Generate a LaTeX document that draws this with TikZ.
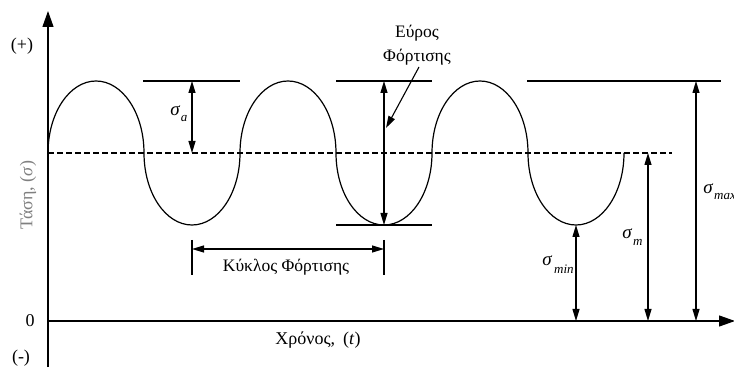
\documentclass[tikz,border=0pt]{standalone}
\usepackage{fontspec}
\setmainfont{Liberation Serif}
\usetikzlibrary{arrows.meta}
\begin{document}
\begin{tikzpicture}[x=1pt,y=1pt,
  line/.style={line width=1.1pt},
  dim/.style={line width=1.1pt,{Triangle[length=12pt,width=7pt]}-{Triangle[length=12pt,width=7pt]}},
  axis/.style={line width=1.2pt,-{Triangle[length=16pt,width=11pt]}},
  lbl/.style={inner sep=0pt,font=\fontsize{17.5}{20}\selectfont},
  sig/.style={inner sep=0pt,font=\fontsize{19}{20}\selectfont\itshape},
  sub/.style={inner sep=0pt,font=\fontsize{13}{14}\selectfont\itshape}]
\useasboundingbox (0,0) rectangle (734,367);
% axes
\coordinate (ybot) at (48,0);
\coordinate (ytop) at (48,356);
\coordinate (xl) at (48,46);
\coordinate (xr) at (735,46);
\draw[axis] (ybot) -- (ytop);
\draw[axis] (xl) -- (xr);
% mean line
\coordinate (ml) at (48,214);
\coordinate (mr) at (672,214);
\draw[line,dash pattern=on 6pt off 3pt] (ml) -- (mr);
% wave
\draw[line width=1.2pt] (ml)
  arc[start angle=180,end angle=0,x radius=48pt,y radius=72pt]
  arc[start angle=180,end angle=360,x radius=48pt,y radius=72pt]
  arc[start angle=180,end angle=0,x radius=48pt,y radius=72pt]
  arc[start angle=180,end angle=360,x radius=48pt,y radius=72pt]
  arc[start angle=180,end angle=0,x radius=48pt,y radius=72pt]
  arc[start angle=180,end angle=360,x radius=48pt,y radius=72pt];
% horizontal reference lines
\coordinate (h1a) at (143,286); \coordinate (h1b) at (240,286);
\coordinate (h2a) at (336,286); \coordinate (h2b) at (432,286);
\coordinate (h3a) at (336,142); \coordinate (h3b) at (432,142);
\coordinate (h4a) at (527,286); \coordinate (h4b) at (721,286);
\draw[line] (h1a) -- (h1b);
\draw[line] (h2a) -- (h2b);
\draw[line] (h3a) -- (h3b);
\draw[line] (h4a) -- (h4b);
% sigma a
\coordinate (sa1) at (192,286); \coordinate (sa2) at (192,214);
\draw[dim] (sa1) -- (sa2);
\node[sig] (sal) at (175,256) {σ};
\node[sub] (sas) at (184,248) {a};
% range
\coordinate (r1) at (384,286); \coordinate (r2) at (384,142);
\draw[dim] (r1) -- (r2);
\node[lbl] (eur) at (417,334) {Εύρος};
\node[lbl] (fort) at (417,310) {Φόρτισης};
\coordinate (pt) at (386,239);
\draw[line,-{Triangle[length=12pt,width=7pt]}] (419,300) -- (pt);
% cycle
\coordinate (c1t) at (192,127); \coordinate (c1b) at (192,92);
\coordinate (c2t) at (384,127); \coordinate (c2b) at (384,92);
\draw[line] (c1t) -- (c1b);
\draw[line] (c2t) -- (c2b);
\coordinate (ca) at (192,118); \coordinate (cb) at (384,118);
\draw[dim] (ca) -- (cb);
\node[lbl] (kyk) at (286,100) {Κύκλος Φόρτισης};
% sigma min, m, max
\coordinate (mn1) at (576,142); \coordinate (mn2) at (576,46);
\draw[dim] (mn1) -- (mn2);
\node[sig] (smn) at (547,106) {σ};
\node[sub,anchor=west] (smns) at (554,98) {min};
\coordinate (m1) at (648,214); \coordinate (m2) at (648,46);
\draw[dim] (m1) -- (m2);
\node[sig] (sm) at (627,133) {σ};
\node[sub,anchor=west] (sms) at (633,125) {m};
\coordinate (mx1) at (696,286); \coordinate (mx2) at (696,46);
\draw[dim] (mx1) -- (mx2);
\node[sig] (smx) at (708,178) {σ};
\node[sub,anchor=west] (smxs) at (714,170) {max};
% axis labels
\node[lbl,font=\fontsize{18}{20}\selectfont] (plus) at (22,321) {(+)};
\node[lbl,font=\fontsize{18}{20}\selectfont] (zero) at (30,46) {0};
\node[lbl,font=\fontsize{18}{20}\selectfont] (minus) at (21,9) {(-)};
\node[lbl,font=\fontsize{18}{20}\selectfont,text=gray,rotate=90] (tas) at (28,172) {Τάση, (\textit{σ})};
\node[lbl,font=\fontsize{18}{20}\selectfont] (xron) at (318,27) {Χρόνος,\hspace{8pt}(\textit{t})};
\end{tikzpicture}
\end{document}
